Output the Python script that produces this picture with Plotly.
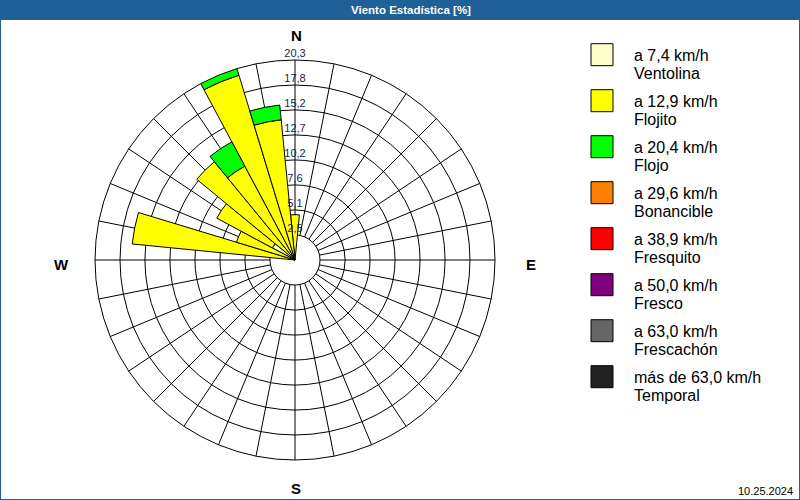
import plotly.graph_objects as go

# ---------------- data ----------------
directions = [0, 11.25, 22.5, 33.75, 45, 56.25, 67.5, 78.75,
              90, 101.25, 112.5, 123.75, 135, 146.25, 157.5, 168.75,
              180, 191.25, 202.5, 213.75, 225, 236.25, 247.5, 258.75,
              270, 281.25, 292.5, 303.75, 315, 326.25, 337.5, 348.75]

ventolina = [0, 0, 0, 0, 0, 0, 0, 0, 0, 0, 0, 0, 0, 0, 0, 0,
             0, 0, 0, 0, 0, 0, 0, 0, 0, 0, 0, 2.6, 0, 0, 0, 0]
flojito = [4.6, 0, 0, 0, 0, 0, 0, 0, 0, 0, 0, 0, 0, 0, 0, 0,
           0, 0, 0, 0, 0, 0, 0, 0, 0, 16.6, 6.2, 6.4, 12.9, 10.8, 19.6, 14.3]
flojo = [0, 0, 0, 0, 0, 0, 0, 0, 0, 0, 0, 0, 0, 0, 0, 0,
         0, 0, 0, 0, 0, 0, 0, 0, 0, 0, 0, 0, 0, 2.8, 0.7, 1.5]
bonancible = [0] * 32
fresquito = [0] * 32
fresco = [0] * 32
frescachon = [0] * 32
temporal = [0] * 32

series = [ventolina, flojito, flojo, bonancible, fresquito, fresco, frescachon, temporal]
speed_labels = ["a 7,4 km/h", "a 12,9 km/h", "a 20,4 km/h", "a 29,6 km/h",
                "a 38,9 km/h", "a 50,0 km/h", "a 63,0 km/h", "más de 63,0 km/h"]
class_names = ["Ventolina", "Flojito", "Flojo", "Bonancible",
               "Fresquito", "Fresco", "Frescachón", "Temporal"]
colors = ["#ffffcc", "#ffff00", "#00ff00", "#ff8000",
          "#ff0000", "#800080", "#666666", "#222222"]

ring_values = [2.54, 5.08, 7.61, 10.15, 12.69, 15.23, 17.76, 20.3]
ring_labels = ["2,5", "5,1", "7,6", "10,2", "12,7", "15,2", "17,8", "20,3"]
r_max = 20.3

title_text = "Viento Estadística [%]"
date_text = "10.25.2024"
compass = ["N", "E", "S", "W"]

# ---------------- figure ----------------
W, H = 800, 500
def px(x): return x / W
def py(y): return 1 - y / H

fig = go.Figure()

# grid subplot (needs a trace to be drawn)
fig.add_trace(go.Scatterpolar(r=[r_max], theta=[0], mode="markers",
                              marker=dict(size=1, opacity=0), subplot="polar",
                              showlegend=False, hoverinfo="skip"))

# bars (top polar subplot, converging to centre)
for vals, name, col in zip(series, class_names, colors):
    th = [d for d, v in zip(directions, vals) if v > 0]
    rr = [v for v in vals if v > 0]
    fig.add_trace(go.Barpolar(
        r=rr, theta=th, width=11.25, name=name, subplot="polar2",
        marker=dict(color=col, line=dict(color="black", width=1)),
        showlegend=False, hoverinfo="skip"))

# ring labels along the N axis
fig.add_trace(go.Scatterpolar(
    r=ring_values, theta=[0] * len(ring_values), mode="text",
    text=ring_labels, textposition="top center", subplot="polar2",
    textfont=dict(family="Liberation Sans", size=11, color="#1a1f48"),
    cliponaxis=False, showlegend=False, hoverinfo="skip"))

# centre/radius of polar area in pixels
cx, cy, R = 295, 260, 200
dom_x = [px(cx - R), px(cx + R)]
dom_y = [py(cy + R), py(cy - R)]

fig.update_layout(
    width=W, height=H,
    margin=dict(l=0, r=0, t=0, b=0),
    paper_bgcolor="white",
    plot_bgcolor="white",
    polar=dict(
        domain=dict(x=dom_x, y=dom_y),
        bgcolor="white",
        hole=ring_values[0] / r_max,
        radialaxis=dict(range=[ring_values[0] - 0.01, r_max], tickvals=ring_values,
                        showticklabels=False, ticks="", showline=False,
                        linecolor="black", gridcolor="black", gridwidth=1),
        angularaxis=dict(rotation=90, direction="clockwise", tickmode="linear",
                         tick0=0, dtick=11.25, showticklabels=False, ticks="",
                         gridcolor="black", gridwidth=1,
                         showline=True, linecolor="black", linewidth=1),
    ),
    polar2=dict(
        domain=dict(x=dom_x, y=dom_y),
        bgcolor="rgba(0,0,0,0)",
        barmode="stack",
        radialaxis=dict(range=[0, r_max], visible=False, showgrid=False,
                        showline=False, linecolor="black"),
        angularaxis=dict(rotation=90, direction="clockwise", showgrid=False,
                         showline=False, showticklabels=False, ticks="",
                         linecolor="black"),
    ),
)

shapes = []
annotations = []

# title bar
shapes.append(dict(type="rect", xref="paper", yref="paper",
                   x0=0, x1=1, y0=py(20), y1=1,
                   fillcolor="#1f6096", line=dict(width=0), layer="above"))
annotations.append(dict(xref="paper", yref="paper", x=px(411), y=py(10),
                        text="<b>" + title_text + "</b>", showarrow=False,
                        xanchor="center", yanchor="middle",
                        font=dict(family="Liberation Sans", size=11.5, color="white")))
# outer border
shapes.append(dict(type="rect", xref="paper", yref="paper", x0=0, x1=1, y0=0, y1=1,
                   line=dict(color="#1f6096", width=2), fillcolor="rgba(0,0,0,0)"))

# compass labels
comp_pos = {"N": (296, 36), "E": (531, 264), "S": (296, 488), "W": (61, 264)}
for c in compass:
    x, y = comp_pos[c]
    annotations.append(dict(xref="paper", yref="paper", x=px(x), y=py(y),
                            text="<b>" + c + "</b>", showarrow=False,
                            xanchor="center", yanchor="middle",
                            font=dict(family="Liberation Sans", size=15, color="black")))

# legend (manual)
for i, (lab, name, col) in enumerate(zip(speed_labels, class_names, colors)):
    yc = 54.7 + 46 * i
    shapes.append(dict(type="rect", xref="paper", yref="paper",
                       x0=px(591), x1=px(613), y0=py(yc + 11), y1=py(yc - 11),
                       fillcolor=col, line=dict(color="black", width=1)))
    annotations.append(dict(xref="paper", yref="paper", x=px(632), y=py(yc + 1),
                            text=lab, showarrow=False, xanchor="left", yanchor="middle",
                            font=dict(family="Liberation Sans", size=16, color="black")))
    annotations.append(dict(xref="paper", yref="paper", x=px(632), y=py(yc + 19),
                            text=name, showarrow=False, xanchor="left", yanchor="middle",
                            font=dict(family="Liberation Sans", size=16, color="black")))

# date
annotations.append(dict(xref="paper", yref="paper", x=px(795), y=py(491),
                        text=date_text, showarrow=False, xanchor="right", yanchor="middle",
                        font=dict(family="Liberation Sans", size=11, color="black")))

fig.update_layout(shapes=shapes, annotations=annotations)
fig.write_html("out.html")
